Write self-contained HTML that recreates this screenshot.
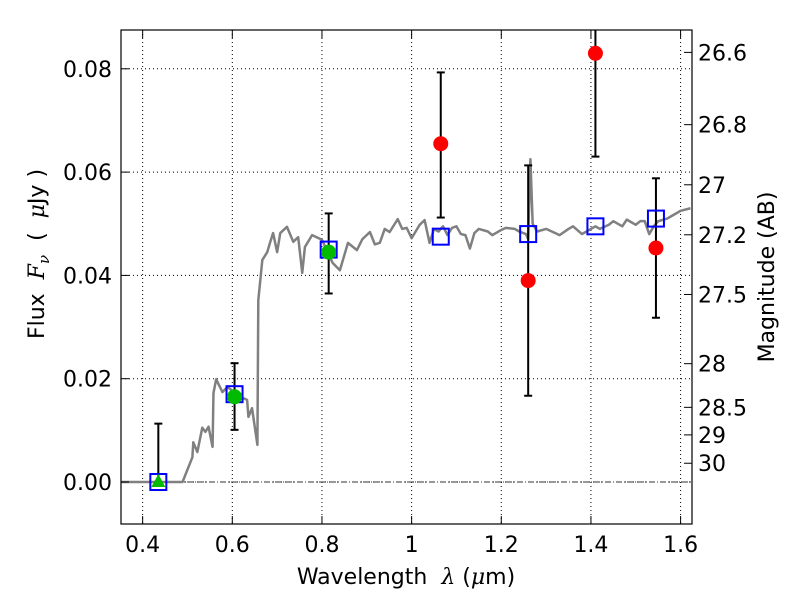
<!DOCTYPE html>
<html><head><meta charset="utf-8"><style>
body{margin:0;background:#fff}
svg{display:block;font-family:"DejaVu Sans","Liberation Sans",sans-serif}
text{white-space:pre}
</style></head><body>
<svg id="chart" width="800" height="600">
<defs><clipPath id="pc"><rect x="121" y="30" width="571" height="494"/></clipPath></defs>
<g id="grid"></g>
<g id="marks" clip-path="url(#pc)"></g>
<rect x="121" y="30" width="571" height="494" fill="none" stroke="#000" stroke-width="1.2"/>
<g id="axes"></g>
<text x="406" y="584" font-size="22" text-anchor="middle">Wavelength  <tspan font-family="DejaVu Serif" font-style="italic">λ</tspan> (<tspan font-family="DejaVu Serif" font-style="italic">μ</tspan>m)</text>
<text transform="translate(44,254) rotate(-90)" font-size="22" text-anchor="middle">Flux  <tspan font-family="DejaVu Serif" font-style="italic">F</tspan><tspan font-family="DejaVu Serif" font-style="italic" font-size="15" dy="5">ν</tspan><tspan dy="-5">  (  </tspan><tspan font-family="DejaVu Serif" font-style="italic">μ</tspan>Jy )</text>
<text transform="translate(774,277) rotate(-90)" font-size="22" text-anchor="middle">Magnitude (AB)</text>
</svg>
<script>
const specLam=[0.353,0.489,0.511,0.513,0.522,0.533,0.540,0.547,0.556,0.558,0.564,0.578,0.589,0.618,0.633,0.636,0.644,0.656,0.658,0.667,0.678,0.684,0.691,0.700,0.707,0.722,0.736,0.747,0.756,0.762,0.778,0.800,0.824,0.840,0.858,0.878,0.89,0.907,0.918,0.929,0.94,0.951,0.969,0.979,0.989,1.0,1.018,1.029,1.04,1.05,1.06,1.07,1.08,1.09,1.10,1.11,1.12,1.13,1.14,1.15,1.17,1.18,1.20,1.21,1.23,1.24,1.255,1.26,1.265,1.27,1.28,1.30,1.32,1.33,1.35,1.36,1.38,1.39,1.41,1.42,1.44,1.45,1.47,1.48,1.50,1.51,1.52,1.53,1.54,1.55,1.57,1.58,1.60,1.622];
const specFlux=[0,0,0.0048,0.0077,0.0058,0.0105,0.0097,0.0107,0.0068,0.0172,0.0199,0.0174,0.0184,0.0165,0.0159,0.0126,0.0143,0.0072,0.0352,0.043,0.0445,0.0463,0.0482,0.0445,0.0482,0.0494,0.0465,0.0474,0.0405,0.0455,0.0478,0.0469,0.0424,0.041,0.0463,0.0449,0.047,0.0484,0.046,0.0463,0.049,0.0484,0.0509,0.049,0.0492,0.0472,0.0498,0.0507,0.0463,0.049,0.0485,0.0495,0.0478,0.0492,0.0495,0.048,0.0478,0.0452,0.0482,0.049,0.0485,0.0478,0.0488,0.0492,0.049,0.0485,0.048,0.047,0.0625,0.05,0.0485,0.049,0.0482,0.0478,0.049,0.0495,0.048,0.0485,0.0495,0.049,0.0498,0.0505,0.0495,0.0508,0.0498,0.0505,0.0505,0.048,0.0495,0.0505,0.051,0.0515,0.0525,0.053];
const modelLam=[0.435,0.605,0.815,1.065,1.26,1.41,1.545];
const modelFlux=[0.0,0.017,0.045,0.0475,0.048,0.0495,0.051];
const greenLam=[0.605,0.815];
const greenFlux=[0.0165,0.0445];
const greenLo=[0.0101,0.0365];
const greenHi=[0.023,0.052];
const triLam=[0.435];const triFlux=[0.0];const triHi=[0.0113];
const redLam=[1.065,1.26,1.41,1.545];
const redFlux=[0.0655,0.039,0.083,0.0453];
const redLo=[0.0512,0.0167,0.063,0.0318];
const redHi=[0.0793,0.0613,0.095,0.0588];
const xTicks=[0.4,0.6,0.8,1.0,1.2,1.4,1.6];
const xTickLabels=["0.4","0.6","0.8","1","1.2","1.4","1.6"];
const yTicks=[0,0.02,0.04,0.06,0.08];
const yTickLabels=["0.00","0.02","0.04","0.06","0.08"];
const magTicks=[26.6,26.8,27,27.2,27.5,28,28.5,29,30];
const magLabels=["26.6","26.8","27","27.2","27.5","28","28.5","29","30"];

const NS="http://www.w3.org/2000/svg";
const X=v=>232.3+(v-0.6)*448.3;
const Y=v=>482-v*5165;
function mk(tag,attrs,parent){const e=document.createElementNS(NS,tag);for(const k in attrs)e.setAttribute(k,attrs[k]);parent.appendChild(e);return e;}
const grid=document.getElementById('grid'),marks=document.getElementById('marks'),axes=document.getElementById('axes');

xTicks.forEach((t,i)=>{
  const g=mk('line',{x1:X(t),x2:X(t),y1:30,y2:524,stroke:'#000','stroke-width':1,'stroke-dasharray':'1,3'},grid);
  
  const a=mk('line',{x1:X(t),x2:X(t),y1:524,y2:516,stroke:'#000'},axes);
  
  const b=mk('line',{x1:X(t),x2:X(t),y1:30,y2:38,stroke:'#000'},axes);
  
  const tx=mk('text',{x:X(t),y:552,'font-size':22,'text-anchor':'middle'},axes);tx.textContent=xTickLabels[i];
  
});
yTicks.forEach((t,i)=>{
  const g=mk('line',{x1:121,x2:692,y1:Y(t),y2:Y(t),stroke:'#000','stroke-width':1,'stroke-dasharray':'1,3'},grid);
  
  const a=mk('line',{x1:121,x2:129,y1:Y(t),y2:Y(t),stroke:'#000'},axes);
  
  const tx=mk('text',{x:112,y:Y(t)+8,'font-size':22,'text-anchor':'end'},axes);tx.textContent=yTickLabels[i];
  
});
magTicks.forEach((m,i)=>{
  const f=Math.pow(10,(23.9-m)/2.5);
  const a=mk('line',{x1:684,x2:692,y1:Y(f),y2:Y(f),stroke:'#000'},axes);
  
  const tx=mk('text',{x:698,y:Y(f)+8,'font-size':22},axes);tx.textContent=magLabels[i];
  
});
const zl=mk('line',{x1:121,x2:692,y1:Y(0),y2:Y(0),stroke:'#333','stroke-width':1,'stroke-dasharray':'6,2,1,2'},marks);


const sp=mk('polyline',{points:specLam.map((l,i)=>X(l)+','+Y(specFlux[i])).join(' '),fill:'none',stroke:'#808080','stroke-width':2.5,'stroke-linejoin':'round'},marks);


function ebar(x,lo,hi){
  const g=mk('g',{stroke:'#000','stroke-width':2},marks);
  
  mk('line',{x1:X(x),x2:X(x),y1:Y(lo),y2:Y(hi)},g);
  mk('line',{x1:X(x)-4,x2:X(x)+4,y1:Y(lo),y2:Y(lo)},g);
  mk('line',{x1:X(x)-4,x2:X(x)+4,y1:Y(hi),y2:Y(hi)},g);
}
greenLam.forEach((l,i)=>ebar(l,greenLo[i],greenHi[i]));
triLam.forEach((l,i)=>ebar(l,triFlux[i],triHi[i]));
redLam.forEach((l,i)=>ebar(l,redLo[i],redHi[i]));

modelLam.forEach((l,i)=>{
  const r=mk('rect',{x:X(l)-8,y:Y(modelFlux[i])-8,width:16,height:16,fill:'none',stroke:'#0000ff','stroke-width':2},marks);
  
});
greenLam.forEach((l,i)=>{
  const c=mk('circle',{cx:X(l),cy:Y(greenFlux[i]),r:7.5,fill:'#00bb00'},marks);
  
});
triLam.forEach((l,i)=>{
  const x=X(l),y=Y(triFlux[i]);
  const p=mk('polygon',{points:`${x},${y-8} ${x-7},${y+5} ${x+7},${y+5}`,fill:'#00bb00'},marks);
  
});
redLam.forEach((l,i)=>{
  const c=mk('circle',{cx:X(l),cy:Y(redFlux[i]),r:7.5,fill:'#ff0000'},marks);
  
});
</script>
</body></html>
